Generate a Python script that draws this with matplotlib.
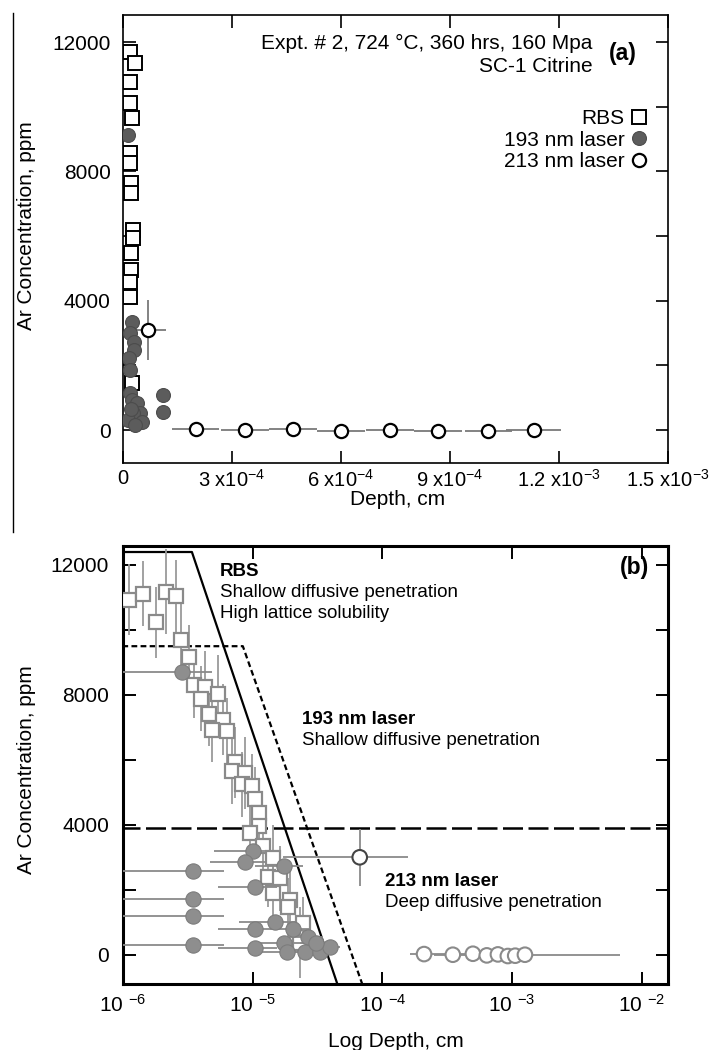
import numpy as np
import matplotlib
matplotlib.use("Agg")
import matplotlib.pyplot as plt
from matplotlib.lines import Line2D

plt.rcParams['font.family'] = ['Liberation Sans', 'DejaVu Sans']
plt.rcParams['mathtext.fontset'] = 'custom'
plt.rcParams['mathtext.rm'] = 'Liberation Sans'
plt.rcParams['mathtext.default'] = 'regular'

# ---- panel (a): linear depth ----
a_rbs_depth = [1.93e-5, 3.3e-5, 1.93e-5, 1.93e-5, 2.48e-5, 1.93e-5, 1.93e-5, 2.2e-5,
               2.2e-5, 2.75e-5, 2.75e-5, 2.2e-5, 2.2e-5, 1.93e-5, 1.93e-5, 2.48e-5]
a_rbs_conc = [11690, 11350, 10770, 10120, 9650, 8570, 8260, 7640,
              7330, 6190, 5940, 5480, 4950, 4580, 4110, 1450]

a_193_depth = [1.4e-5, 2.48e-5, 1.93e-5, 3.0e-5, 3.0e-5, 1.65e-5, 1.93e-5, 1.93e-5,
               2.48e-5, 3.85e-5, 4.7e-5, 2.75e-5, 5.2e-5, 1.4e-5, 3.3e-5, 2.2e-5,
               1.1e-4, 1.1e-4]
a_193_conc = [9130, 3340, 3000, 2720, 2470, 2230, 1860, 1150,
              930, 840, 530, 530, 250, 310, 150, 650,
              1100, 560]

a_213_depth = [6.9e-5, 2.0e-4, 3.36e-4, 4.68e-4, 6.0e-4, 7.35e-4, 8.67e-4, 1.005e-3, 1.13e-3]
a_213_conc = [3100, 20, 0, 30, -20, 10, -40, -30, 0]
a_213_xerr = [5e-5, 6.5e-5, 6.5e-5, 6.5e-5, 6.5e-5, 6.5e-5, 6.5e-5, 6.5e-5, 7.5e-5]
a_213_yerr = [920, 0, 0, 0, 0, 0, 0, 0, 0]

a_xticks = [0, 3e-4, 6e-4, 9e-4, 1.2e-3, 1.5e-3]
a_xticklabels = ['0', '3 x10$^{-4}$', '6 x10$^{-4}$', '9 x10$^{-4}$',
                 '1.2 x10$^{-3}$', '1.5 x10$^{-3}$']

conc_ticks = [0, 2000, 4000, 6000, 8000, 10000, 12000]
conc_labels = ['0', '', '4000', '', '8000', '', '12000']

# ---- panel (b): log depth ----
b_rbs_depth = [1.11e-6, 1.43e-6, 1.8e-6, 2.15e-6, 2.57e-6, 2.8e-6, 3.24e-6, 3.53e-6,
               4.3e-6, 4.0e-6, 5.4e-6, 4.6e-6, 5.9e-6, 4.9e-6, 6.3e-6, 7.3e-6,
               6.9e-6, 8.7e-6, 8.3e-6, 9.9e-6, 1.04e-5, 1.12e-5, 1.12e-5, 9.5e-6,
               1.2e-5, 1.44e-5, 1.31e-5, 1.62e-5, 1.44e-5, 1.94e-5, 1.87e-5, 2.45e-5,
               2.3e-5]
b_rbs_conc = [10930, 11110, 10230, 11180, 11050, 9680, 9160, 8300,
              8240, 7880, 8030, 7420, 7240, 6930, 6900, 5920,
              5650, 5590, 5250, 5190, 4790, 4370, 3970, 3760,
              3360, 2990, 2380, 2350, 1890, 1680, 1470, 980,
              370]
b_rbs_err = [1100, 1000, 1100, 1300, 1100, 1200, 1000, 1000,
             1100, 1000, 1200, 1000, 1100, 1000, 1000, 1100,
             1000, 1100, 1000, 1000, 1000, 1000, 900, 900,
             900, 1000, 900, 1000, 900, 900, 900, 800,
             1100]

b_193_depth = [2.85e-6, 1.0e-5, 8.7e-6, 3.46e-6, 1.75e-5, 1.04e-5, 3.46e-6, 3.46e-6,
               1.49e-5, 1.04e-5, 2.05e-5, 2.67e-5, 1.75e-5, 3.46e-6, 1.04e-5, 1.84e-5,
               2.54e-5, 3.3e-5, 3.95e-5, 3.1e-5]
b_193_conc = [8700, 3200, 2840, 2565, 2720, 2076, 1710, 1190,
              1000, 790, 790, 550, 370, 300, 210, 90,
              90, 90, 240, 370]
b_193_xerr = [2e-6, 5e-6, 4e-6, 2.5e-6, 7e-6, 5e-6, 2.6e-6, 2.6e-6,
              7e-6, 5e-6, 7e-6, 8e-6, 7e-6, 2.6e-6, 5e-6, 7e-6,
              8e-6, 8e-6, 8e-6, 8e-6]

b_213_depth = [6.7e-5, 2.1e-4, 3.5e-4, 5.0e-4, 6.4e-4, 7.8e-4, 9.3e-4, 1.06e-3, 1.26e-3]
b_213_conc = [3000, 20, 0, 30, -20, 10, -40, -30, 0]
b_213_xlo = [5e-5, 4.6e-5, 1e-4, 1e-4, 1e-4, 1e-4, 1e-4, 1e-4, 1e-4]
b_213_xhi = [9e-5, 1.2e-4, 1.2e-4, 1.2e-4, 1.2e-4, 1.2e-4, 1.2e-4, 1.2e-4, 5.5e-3]
b_213_yerr = [870, 0, 0, 0, 0, 0, 0, 0, 0]

# diffusion-profile envelopes
b_xmin, b_xmax = 1e-6, 1.6e-2
b_ymin, b_ymax = -900, 12585
rbs_env_depth = [b_xmin, b_xmin, 3.4e-6, 4.5e-5]
rbs_env_conc = [b_ymin, 12400, 12400, b_ymin]
l193_env_depth = [b_xmin, b_xmin, 8.4e-6, 7.0e-5]
l193_env_conc = [b_ymin, 9500, 9500, b_ymin]
l213_env_depth = [b_xmin, b_xmin, b_xmax, b_xmax, b_xmin]
l213_env_conc = [b_ymin, 3900, 3900, b_ymin, b_ymin]

b_xticks = [1e-6, 1e-5, 1e-4, 1e-3, 1e-2]
b_xticklabels = ['10 $^{-6}$', '10 $^{-5}$', '10 $^{-4}$', '10 $^{-3}$', '10 $^{-2}$']

fig = plt.figure(figsize=(7.09, 10.5), dpi=100)
axa = fig.add_axes([0.1735, 0.559, 0.7687, 0.4267])
axb = fig.add_axes([0.1735, 0.0629, 0.7687, 0.4171])

# stray border line at the far left of the top panel
fig.add_artist(Line2D([13 / 709, 13 / 709], [1 - 13 / 1050, 1 - 532 / 1050],
                      color='black', lw=1.0))

# ---- (a) ----
axa.errorbar(a_213_depth, a_213_conc, xerr=a_213_xerr, yerr=a_213_yerr, fmt='none',
             ecolor='#7a7a7a', elinewidth=1.3, capsize=0, zorder=2)
axa.plot(a_rbs_depth, a_rbs_conc, ls='none', marker='s', ms=9.5, mfc='white',
         mec='black', mew=1.4, zorder=3, label='RBS')
axa.plot(a_193_depth, a_193_conc, ls='none', marker='o', ms=10, mfc='#5c5c5c',
         mec='#4c4c4c', mew=0.8, zorder=4, label='193 nm laser')
axa.plot(a_213_depth, a_213_conc, ls='none', marker='o', ms=9.5, mfc='white',
         mec='black', mew=1.6, zorder=5, label='213 nm laser')

axa.set_xlim(0, 1.5e-3)
axa.set_ylim(-1020, 12840)
axa.set_xticks(a_xticks)
axa.set_xticklabels(a_xticklabels, fontsize=14.5)
axa.set_yticks(conc_ticks)
axa.set_yticklabels(conc_labels, fontsize=15)
axa.tick_params(axis='both', direction='in', length=9, width=1.2, top=True, right=True)
axa.tick_params(axis='x', pad=4)
axa.tick_params(axis='y', pad=9)
for s in axa.spines.values():
    s.set_linewidth(1.2)
axa.set_xlabel('Depth, cm', fontsize=15)
axa.xaxis.set_label_coords(0.503, -0.06)
axa.set_ylabel('Ar Concentration, ppm', fontsize=15)
axa.yaxis.set_label_coords(-0.16, 0.53)

axa.text(0.862, 0.9375, 'Expt. # 2, 724 \u00b0C, 360 hrs, 160 Mpa', transform=axa.transAxes,
         ha='right', va='center', fontsize=15)
axa.text(0.862, 0.884, 'SC-1 Citrine', transform=axa.transAxes,
         ha='right', va='center', fontsize=15)
axa.text(0.917, 0.915, '(a)', transform=axa.transAxes, ha='center', va='center',
         fontsize=16.5, fontweight='bold')
axa.legend(loc='upper right', bbox_to_anchor=(0.958, 0.79), markerfirst=False,
           frameon=False, fontsize=15, handlelength=0.6, handletextpad=0.4,
           labelspacing=0.12, borderpad=0, borderaxespad=0)

# ---- (b) ----
axb.plot(rbs_env_depth, rbs_env_conc, color='black', lw=1.6, zorder=3)
axb.plot(l193_env_depth, l193_env_conc, color='black', lw=1.6, ls=(0, (2.6, 1.5)), zorder=3)
axb.plot(l213_env_depth, l213_env_conc, color='black', lw=1.8, ls=(0, (8, 2.2)),
         zorder=3, clip_on=False)

axb.errorbar(b_rbs_depth, b_rbs_conc, yerr=b_rbs_err, fmt='none', ecolor='#9a9a9a',
             elinewidth=1.3, capsize=0, zorder=4)
axb.plot(b_rbs_depth, b_rbs_conc, ls='none', marker='s', ms=10, mfc='white',
         mec='#8a8a8a', mew=1.6, zorder=5)
axb.errorbar(b_193_depth, b_193_conc, xerr=b_193_xerr, fmt='none', ecolor='#8a8a8a',
             elinewidth=1.3, capsize=0, zorder=6)
axb.plot(b_193_depth, b_193_conc, ls='none', marker='o', ms=11, mfc='#8e8e8e',
         mec='#7c7c7c', mew=0.8, zorder=7)
axb.errorbar(b_213_depth, b_213_conc, xerr=[b_213_xlo, b_213_xhi], yerr=b_213_yerr,
             fmt='none', ecolor='#8a8a8a', elinewidth=1.3, capsize=0, zorder=6)
b_213_edge = ['#444444' if c > 1000 else '#8a8a8a' for c in b_213_conc]
axb.scatter(b_213_depth, b_213_conc, s=110, facecolors='white', edgecolors=b_213_edge,
            linewidths=1.5, zorder=8)

axb.set_xscale('log')
axb.set_xlim(b_xmin, b_xmax)
axb.set_ylim(b_ymin, b_ymax)
axb.set_xticks(b_xticks)
axb.set_xticklabels(b_xticklabels, fontsize=15)
axb.xaxis.set_minor_locator(matplotlib.ticker.NullLocator())
axb.set_yticks(conc_ticks)
axb.set_yticklabels(conc_labels, fontsize=15)
axb.tick_params(axis='both', direction='in', length=9, width=1.4, top=True, right=True)
axb.tick_params(axis='x', pad=7)
axb.tick_params(axis='y', pad=10)
for s in axb.spines.values():
    s.set_linewidth(2.2)
axb.set_xlabel('Log Depth, cm', fontsize=15)
axb.xaxis.set_label_coords(0.5, -0.11)
axb.set_ylabel('Ar Concentration, ppm', fontsize=15)
axb.yaxis.set_label_coords(-0.16, 0.49)

axb.text(0.178, 0.941, 'RBS', transform=axb.transAxes, ha='left', va='center',
         fontsize=13.5, fontweight='bold')
axb.text(0.178, 0.893, 'Shallow diffusive penetration', transform=axb.transAxes,
         ha='left', va='center', fontsize=13.5)
axb.text(0.178, 0.847, 'High lattice solubility', transform=axb.transAxes,
         ha='left', va='center', fontsize=13.5)
axb.text(0.328, 0.603, '193 nm laser', transform=axb.transAxes, ha='left', va='center',
         fontsize=13.5, fontweight='bold')
axb.text(0.328, 0.555, 'Shallow diffusive penetration', transform=axb.transAxes,
         ha='left', va='center', fontsize=13.5)
axb.text(0.481, 0.233, '213 nm laser', transform=axb.transAxes, ha='left', va='center',
         fontsize=13.5, fontweight='bold')
axb.text(0.481, 0.185, 'Deep diffusive penetration', transform=axb.transAxes,
         ha='left', va='center', fontsize=13.5)
axb.text(0.938, 0.952, '(b)', transform=axb.transAxes, ha='center', va='center',
         fontsize=16.5, fontweight='bold')

fig.savefig('out.png', dpi=100)
